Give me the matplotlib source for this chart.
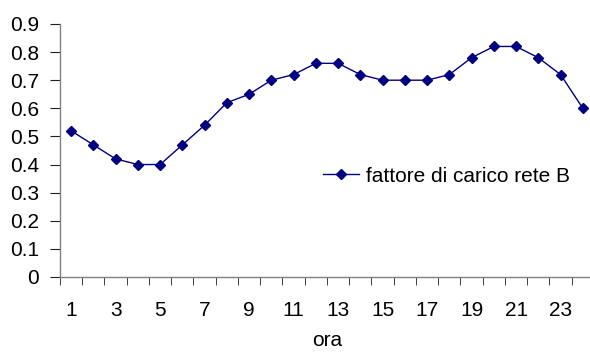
import matplotlib

matplotlib.use("Agg")

import matplotlib.pyplot as plt
import numpy as np

hours = list(range(1, 25))
load_factor = [0.52, 0.47, 0.42, 0.40, 0.40, 0.47, 0.54, 0.62, 0.65, 0.70, 0.72, 0.76,
               0.76, 0.72, 0.70, 0.70, 0.70, 0.72, 0.78, 0.82, 0.82, 0.78, 0.72, 0.60]
tick_hours = list(range(1, 25, 2))
y_ticks = [0, 0.1, 0.2, 0.3, 0.4, 0.5, 0.6, 0.7, 0.8, 0.9]
series_label = "fattore di carico rete B"
x_label = "ora"

plt.rcParams["font.family"] = ["Liberation Sans", "DejaVu Sans"]
FS = 15
AXIS_GREY = "#808080"

fig = plt.figure(figsize=(5.9, 3.52), dpi=100)
ax = fig.add_axes([0.1017, 0.2131, 0.905, 0.7188])

ax.plot(hours, load_factor, color="#000080", linewidth=1.0,
        marker="D", markersize=5.5, label=series_label)

# category axis: tick marks on the boundaries, labels at the centres
ax.set_xlim(0.5, 24.5)
ax.set_xticks(tick_hours)
ax.set_xticks(np.arange(0.5, 25, 1.0), minor=True)
ax.tick_params(axis="x", which="major", length=0, pad=17, labelsize=FS)
ax.tick_params(axis="x", which="minor", length=6, direction="out", color="#202020")

ax.set_ylim(0, 0.9)
ax.set_yticks(y_ticks)
ax.set_yticklabels([f"{v:g}" for v in y_ticks])
ax.tick_params(axis="y", length=7, direction="out", pad=8, labelsize=FS, color="#202020")

for side in ("top", "right"):
    ax.spines[side].set_visible(False)
for side in ("left", "bottom"):
    ax.spines[side].set_color(AXIS_GREY)
    ax.spines[side].set_linewidth(1.0)

ax.set_xlabel(x_label, fontsize=FS, labelpad=8)

ax.legend(loc="center left", bbox_to_anchor=(0.5475, 0.5), bbox_transform=fig.transFigure,
          frameon=False, fontsize=FS, handlelength=1.75, handletextpad=0.3,
          borderpad=0, borderaxespad=0)

fig.savefig("out.png", dpi=100)
